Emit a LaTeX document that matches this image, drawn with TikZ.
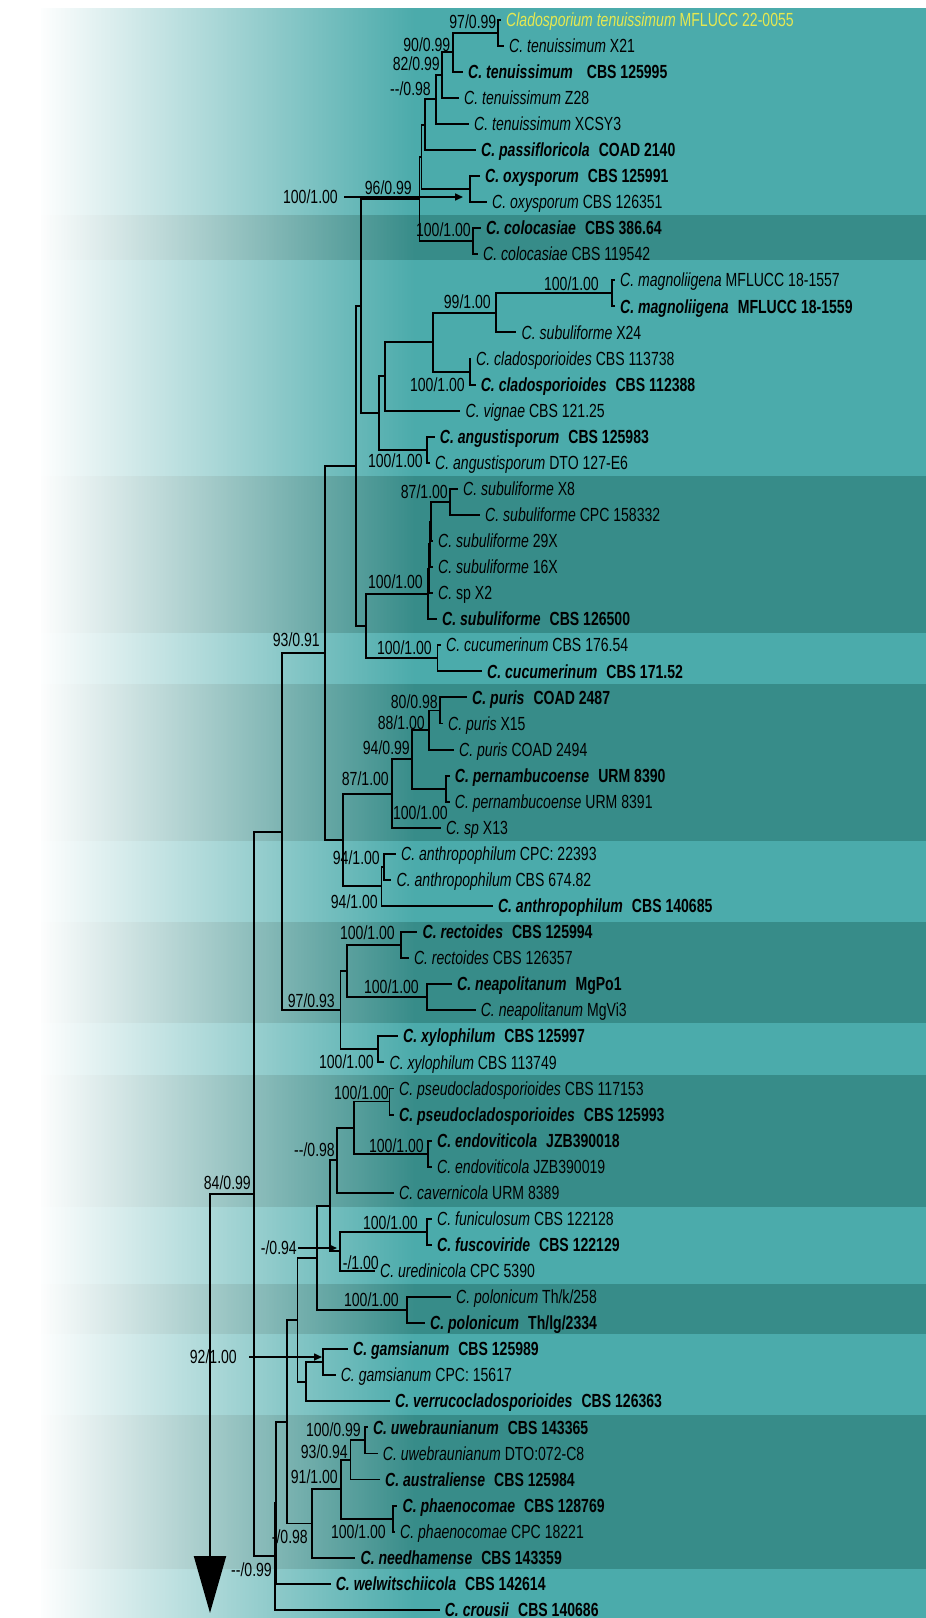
\documentclass[tikz,border=0pt]{standalone}
\usepackage{fontspec}
\setmainfont{Liberation Sans}[FakeStretch=0.74]
\usetikzlibrary{arrows.meta,fadings}
\definecolor{bandlight}{RGB}{75,171,171}
\definecolor{banddark}{RGB}{55,140,137}
\definecolor{hilite}{RGB}{230,232,80}
% species name in italics followed by the strain number
\newcommand\sreg[2]{\textit{#1} #2}
% ex-type strains: bold, with a wider gap before the strain number
\newcommand\stype[2]{\textbf{\textit{#1}\hspace{9pt}#2}}
% white wash that is solid on the left and clear on the right
\tikzfading[name=washleft, left color=transparent!0, right color=transparent!100]

\begin{document}
\begin{tikzpicture}[x=1pt,y=-1pt,
  declare function={ry(\i)=26.07*\i-6.47;},
  br/.style={line width=1.9pt, line join=miter, line cap=rect},
  taxon/.style={anchor=west, inner xsep=6pt, inner ysep=0pt, text height=13.3pt, text depth=0pt},
  support/.style={anchor=east, inner sep=0pt, text height=13.3pt, text depth=0pt},
  pointer/.style={line width=1.6pt, -{Triangle[length=8pt,width=7pt]}},
  font=\fontsize{19}{21}\selectfont]

\useasboundingbox (0,0) rectangle (926,1618);
\fill[white] (0,0) rectangle (926,1618);

% alternating clade bands
\foreach \ya/\yb/\bc in {7.5/215/bandlight, 215/260/banddark, 260/476/bandlight,
   476/633/banddark, 633/684/bandlight, 684/841/banddark, 841/922/bandlight,
   922/1023/banddark, 1023/1075/bandlight, 1075/1207/banddark, 1207/1284/bandlight,
   1284/1334/banddark, 1334/1415/bandlight, 1415/1569/banddark, 1569/1618/bandlight}{
  \fill[\bc] (41,\ya) rectangle (926,\yb);
}
% the bands fade to white towards the left edge
\fill[white, path fading=washleft] (38,-2) rectangle (415,1620);

% ---------- taxa ----------
\node[taxon, text=hilite] (L1) at (500,{ry(1)}) {\sreg{Cladosporium tenuissimum}{MFLUCC 22-0055}};
\node[taxon] (L2) at (503,{ry(2)}) {\sreg{C. tenuissimum}{X21}};
\node[taxon] (L3) at (462,{ry(3)}) {\textbf{\textit{C. tenuissimum}\hspace{14pt}CBS 125995}};
\node[taxon] (L4) at (458,{ry(4)}) {\sreg{C. tenuissimum}{Z28}};
\node[taxon] (L5) at (468,{ry(5)}) {\sreg{C. tenuissimum}{XCSY3}};
\node[taxon] (L6) at (475,{ry(6)}) {\stype{C. passifloricola}{COAD 2140}};
\node[taxon] (L7) at (479,{ry(7)}) {\stype{C. oxysporum}{CBS 125991}};
\node[taxon] (L8) at (486,{ry(8)}) {\sreg{C. oxysporum}{CBS 126351}};
\node[taxon] (L9) at (480,{ry(9)}) {\stype{C. colocasiae}{CBS 386.64}};
\node[taxon] (L10) at (477,{ry(10)}) {\sreg{C. colocasiae}{CBS 119542}};
\node[taxon] (L11) at (614,{ry(11)}) {\sreg{C. magnoliigena}{MFLUCC 18-1557}};
\node[taxon] (L12) at (614,{ry(12)}) {\stype{C. magnoliigena}{MFLUCC 18-1559}};
\node[taxon] (L13) at (515.5,{ry(13)}) {\sreg{C. subuliforme}{X24}};
\node[taxon] (L14) at (470,{ry(14)}) {\sreg{C. cladosporioides}{CBS 113738}};
\node[taxon] (L15) at (474.6,{ry(15)}) {\stype{C. cladosporioides}{CBS 112388}};
\node[taxon] (L16) at (459.5,{ry(16)}) {\sreg{C. vignae}{CBS 121.25}};
\node[taxon] (L17) at (433.7,{ry(17)}) {\stype{C. angustisporum}{CBS 125983}};
\node[taxon] (L18) at (429,{ry(18)}) {\sreg{C. angustisporum}{DTO 127-E6}};
\node[taxon] (L19) at (457,{ry(19)}) {\sreg{C. subuliforme}{X8}};
\node[taxon] (L20) at (479,{ry(20)}) {\sreg{C. subuliforme}{CPC 158332}};
\node[taxon] (L21) at (432,{ry(21)}) {\sreg{C. subuliforme}{29X}};
\node[taxon] (L22) at (432,{ry(22)}) {\sreg{C. subuliforme}{16X}};
\node[taxon] (L23) at (432,{ry(23)}) {\sreg{C.}{sp X2}};
\node[taxon] (L24) at (436,{ry(24)}) {\stype{C. subuliforme}{CBS 126500}};
\node[taxon] (L25) at (440,{ry(25)}) {\sreg{C. cucumerinum}{CBS 176.54}};
\node[taxon] (L26) at (481,{ry(26)}) {\stype{C. cucumerinum}{CBS 171.52}};
\node[taxon] (L27) at (466,{ry(27)}) {\stype{C. puris}{COAD 2487}};
\node[taxon] (L28) at (442,{ry(28)}) {\sreg{C. puris}{X15}};
\node[taxon] (L29) at (453,{ry(29)}) {\sreg{C. puris}{COAD 2494}};
\node[taxon] (L30) at (448.7,{ry(30)}) {\stype{C. pernambucoense}{URM 8390}};
\node[taxon] (L31) at (448.7,{ry(31)}) {\sreg{C. pernambucoense}{URM 8391}};
\node[taxon] (L32) at (440,{ry(32)}) {\sreg{C. sp}{X13}};
\node[taxon] (L33) at (395,{ry(33)}) {\sreg{C. anthropophilum}{CPC: 22393}};
\node[taxon] (L34) at (390.5,{ry(34)}) {\sreg{C. anthropophilum}{CBS 674.82}};
\node[taxon] (L35) at (491.8,{ry(35)}) {\stype{C. anthropophilum}{CBS 140685}};
\node[taxon] (L36) at (416.4,{ry(36)}) {\stype{C. rectoides}{CBS 125994}};
\node[taxon] (L37) at (407.8,{ry(37)}) {\sreg{C. rectoides}{CBS 126357}};
\node[taxon] (L38) at (451,{ry(38)}) {\stype{C. neapolitanum}{MgPo1}};
\node[taxon] (L39) at (474.6,{ry(39)}) {\sreg{C. neapolitanum}{MgVi3}};
\node[taxon] (L40) at (397,{ry(40)}) {\stype{C. xylophilum}{CBS 125997}};
\node[taxon] (L41) at (383.5,{ry(41)}) {\sreg{C. xylophilum}{CBS 113749}};
\node[taxon] (L42) at (393,{ry(42)}) {\sreg{C. pseudocladosporioides}{CBS 117153}};
\node[taxon] (L43) at (393,{ry(43)}) {\stype{C. pseudocladosporioides}{CBS 125993}};
\node[taxon] (L44) at (431,{ry(44)}) {\stype{C. endoviticola}{JZB390018}};
\node[taxon] (L45) at (431,{ry(45)}) {\sreg{C. endoviticola}{JZB390019}};
\node[taxon] (L46) at (393,{ry(46)}) {\sreg{C. cavernicola}{URM 8389}};
\node[taxon] (L47) at (431,{ry(47)}) {\sreg{C. funiculosum}{CBS 122128}};
\node[taxon] (L48) at (431,{ry(48)}) {\stype{C. fuscoviride}{CBS 122129}};
\node[taxon] (L49) at (374,{ry(49)}) {\sreg{C. uredinicola}{CPC 5390}};
\node[taxon] (L50) at (450,{ry(50)}) {\sreg{C. polonicum}{Th/k/258}};
\node[taxon] (L51) at (424,{ry(51)}) {\stype{C. polonicum}{Th/lg/2334}};
\node[taxon] (L52) at (347,{ry(52)}) {\stype{C. gamsianum}{CBS 125989}};
\node[taxon] (L53) at (334.6,{ry(53)}) {\sreg{C. gamsianum}{CPC: 15617}};
\node[taxon] (L54) at (389,{ry(54)}) {\stype{C. verrucocladosporioides}{CBS 126363}};
\node[taxon] (L55) at (366.8,{ry(55)}) {\stype{C. uwebraunianum}{CBS 143365}};
\node[taxon] (L56) at (376.7,{ry(56)}) {\sreg{C. uwebraunianum}{DTO:072-C8}};
\node[taxon] (L57) at (379,{ry(57)}) {\stype{C. australiense}{CBS 125984}};
\node[taxon] (L58) at (396.5,{ry(58)}) {\stype{C. phaenocomae}{CBS 128769}};
\node[taxon] (L59) at (394,{ry(59)}) {\sreg{C. phaenocomae}{CPC 18221}};
\node[taxon] (L60) at (354.4,{ry(60)}) {\stype{C. needhamense}{CBS 143359}};
\node[taxon] (L61) at (329.6,{ry(61)}) {\stype{C. welwitschiicola}{CBS 142614}};
\node[taxon] (L62) at (438.6,{ry(62)}) {\stype{C. crousii}{CBS 140686}};

% ---------- internal nodes ----------
\coordinate (nn97) at (498,{ry(1.5)});
\coordinate (nn90) at (452.6,{ry(2.25)});
\coordinate (nn82) at (441.8,{ry(3.125)});
\coordinate (nn098) at (436,{ry(4.0625)});
\coordinate (nX0) at (424.6,{ry(5.03125)});
\coordinate (noxy) at (470,{ry(7.5)});
\coordinate (nX1) at (421.5,{ry(6.265625)});
\coordinate (ncolo) at (473,{ry(9.5)});
\coordinate (nX2) at (419.5,{ry(7.8828)});
\coordinate (nmagn) at (612,{ry(11.5)});
\coordinate (nn99) at (495.7,{ry(12.25)});
\coordinate (nclad) at (470,{ry(14.5)});
\coordinate (nT) at (433,{ry(13.375)});
\coordinate (nU) at (385,{ry(14.6875)});
\coordinate (nang) at (426.7,{ry(17.5)});
\coordinate (nV) at (379.3,{ry(16.09375)});
\coordinate (nY) at (361.2,{ry(11.9883)});
\coordinate (nn87) at (450.4,{ry(19.5)});
\coordinate (nP4) at (431,{ry(20.25)});
\coordinate (nP3) at (430,{ry(21.125)});
\coordinate (nP2) at (429,{ry(22.0625)});
\coordinate (nP1) at (428,{ry(23.03125)});
\coordinate (ncuc) at (437.5,{ry(25.5)});
\coordinate (nW) at (366,{ry(24.2656)});
\coordinate (nZ) at (355.6,{ry(18.127)});
\coordinate (nn80) at (439.7,{ry(27.5)});
\coordinate (nn88) at (429,{ry(28.25)});
\coordinate (npern) at (446,{ry(30.5)});
\coordinate (nn94) at (411.6,{ry(29.375)});
\coordinate (nn87b) at (392,{ry(30.6875)});
\coordinate (nanthI) at (384,{ry(33.5)});
\coordinate (nanth) at (381.5,{ry(34.25)});
\coordinate (nPA) at (342.7,{ry(32.46875)});
\coordinate (nn93) at (325,{ry(25.298)});
\coordinate (nrect) at (401,{ry(36.5)});
\coordinate (nneap) at (426.7,{ry(38.5)});
\coordinate (nRN) at (347,{ry(37.5)});
\coordinate (nxyl) at (377.6,{ry(40.5)});
\coordinate (nn97b) at (340.5,{ry(39)});
\coordinate (nC) at (282.3,{ry(32.149)});
\coordinate (npseu) at (389.5,{ry(42.5)});
\coordinate (nendo) at (427.6,{ry(44.5)});
\coordinate (nH) at (353.8,{ry(43.5)});
\coordinate (nI) at (337,{ry(44.75)});
\coordinate (nfun) at (426.7,{ry(47.5)});
\coordinate (nK) at (340,{ry(48.25)});
\coordinate (nJ) at (330,{ry(46.5)});
\coordinate (npol) at (406.7,{ry(50.5)});
\coordinate (nL) at (316.7,{ry(48.5)});
\coordinate (ngam) at (323.3,{ry(52.5)});
\coordinate (nO) at (306,{ry(53.25)});
\coordinate (nM) at (297.5,{ry(50.875)});
\coordinate (nuwe) at (365.3,{ry(55.5)});
\coordinate (nP) at (350.5,{ry(56.25)});
\coordinate (nphae) at (392.6,{ry(58.5)});
\coordinate (nQ) at (340.6,{ry(57.375)});
\coordinate (nR) at (311.7,{ry(58.6875)});
\coordinate (nN) at (286.7,{ry(54.78125)});
\coordinate (nE2) at (276,{ry(57.8906)});
\coordinate (nE) at (275,{ry(59.9453)});
\coordinate (nA) at (254.3,{ry(46.047)});
\coordinate (roottip) at (210,1613);

% ---------- branches ----------
\draw[br] (L1.west) -| (nn97) |- (L2.west);
\draw[br] (nn97) -| (nn90) |- (L3.west);
\draw[br] (nn90) -| (nn82) |- (L4.west);
\draw[br] (nn82) -| (nn098) |- (L5.west);
\draw[br] (nn098) -| (nX0) |- (L6.west);
\draw[br] (L7.west) -| (noxy) |- (L8.west);
\draw[br] (nX0) -| (nX1) |- (noxy);
\draw[br] (L9.west) -| (ncolo) |- (L10.west);
\draw[br] (nX1) -| (nX2) |- (ncolo);
\draw[br] (L11.west) -| (nmagn) |- (L12.west);
\draw[br] (nmagn) -| (nn99) |- (L13.west);
\draw[br] (L14.west) -| (nclad) |- (L15.west);
\draw[br] (nn99) -| (nT) |- (nclad);
\draw[br] (nT) -| (nU) |- (L16.west);
\draw[br] (L17.west) -| (nang) |- (L18.west);
\draw[br] (nU) -| (nV) |- (nang);
\draw[br] (nX2) -| (nY) |- (nV);
\draw[br] (L19.west) -| (nn87) |- (L20.west);
\draw[br] (nn87) -| (nP4) |- (L21.west);
\draw[br] (nP4) -| (nP3) |- (L22.west);
\draw[br] (nP3) -| (nP2) |- (L23.west);
\draw[br] (nP2) -| (nP1) |- (L24.west);
\draw[br] (L25.west) -| (ncuc) |- (L26.west);
\draw[br] (nP1) -| (nW) |- (ncuc);
\draw[br] (nY) -| (nZ) |- (nW);
\draw[br] (L27.west) -| (nn80) |- (L28.west);
\draw[br] (nn80) -| (nn88) |- (L29.west);
\draw[br] (L30.west) -| (npern) |- (L31.west);
\draw[br] (nn88) -| (nn94) |- (npern);
\draw[br] (nn94) -| (nn87b) |- (L32.west);
\draw[br] (L33.west) -| (nanthI) |- (L34.west);
\draw[br] (nanthI) -| (nanth) |- (L35.west);
\draw[br] (nn87b) -| (nPA) |- (nanth);
\draw[br] (nZ) -| (nn93) |- (nPA);
\draw[br] (L36.west) -| (nrect) |- (L37.west);
\draw[br] (L38.west) -| (nneap) |- (L39.west);
\draw[br] (nrect) -| (nRN) |- (nneap);
\draw[br] (L40.west) -| (nxyl) |- (L41.west);
\draw[br] (nRN) -| (nn97b) |- (nxyl);
\draw[br] (nn93) -| (nC) |- (nn97b);
\draw[br] (L42.west) -| (npseu) |- (L43.west);
\draw[br] (L44.west) -| (nendo) |- (L45.west);
\draw[br] (npseu) -| (nH) |- (nendo);
\draw[br] (nH) -| (nI) |- (L46.west);
\draw[br] (L47.west) -| (nfun) |- (L48.west);
\draw[br] (nfun) -| (nK) |- (L49.west);
\draw[br] (nI) -| (nJ) |- (nK);
\draw[br] (L50.west) -| (npol) |- (L51.west);
\draw[br] (nJ) -| (nL) |- (npol);
\draw[br] (L52.west) -| (ngam) |- (L53.west);
\draw[br] (ngam) -| (nO) |- (L54.west);
\draw[br] (nL) -| (nM) |- (nO);
\draw[br] (L55.west) -| (nuwe) |- (L56.west);
\draw[br] (nuwe) -| (nP) |- (L57.west);
\draw[br] (L58.west) -| (nphae) |- (L59.west);
\draw[br] (nP) -| (nQ) |- (nphae);
\draw[br] (nQ) -| (nR) |- (L60.west);
\draw[br] (nM) -| (nN) |- (nR);
\draw[br] (nN) -| (nE2) |- (L61.west);
\draw[br] (nE2) -| (nE) |- (L62.west);
\draw[br] (nC) -| (nA) |- (nE);
% branch to the rest of the tree, continued below
\draw[br, -{Triangle[length=57pt,width=32pt]}] (nA) -| (roottip);

% ---------- support values ----------
\node[support] (s97) at (496.5,22) {97/0.99};
\node[support] (s90) at (450.5,45) {90/0.99};
\node[support] (s82) at (440,64) {82/0.99};
\node[support] (s098) at (431,89) {-{}-/0.98};
\node[support] (s96) at (412,188) {96/0.99};
\node[support] (s100oxy) at (338,197) {100/1.00};
\node[support] (scolo) at (471,230) {100/1.00};
\node[support] (smagn) at (599,284) {100/1.00};
\node[support] (s99) at (491,302) {99/1.00};
\node[support] (sclad) at (465,385) {100/1.00};
\node[support] (sang) at (423,461) {100/1.00};
\node[support] (s87) at (448,492) {87/1.00};
\node[support] (ssub) at (423,582) {100/1.00};
\node[support] (scuc) at (432,648) {100/1.00};
\node[support] (s93) at (320,640) {93/0.91};
\node[support] (s80) at (438,702) {80/0.98};
\node[support] (s88) at (425,723) {88/1.00};
\node[support] (s94) at (410,748) {94/0.99};
\node[support] (s87b) at (389,779) {87/1.00};
\node[support] (spern) at (448,813) {100/1.00};
\node[support] (s94a) at (380,858) {94/1.00};
\node[support] (s94b) at (378,902) {94/1.00};
\node[support] (srect) at (395,933) {100/1.00};
\node[support] (sneap) at (419,987) {100/1.00};
\node[support] (s97b) at (335,1001) {97/0.93};
\node[support] (sxyl) at (374,1062) {100/1.00};
\node[support] (spseu) at (389,1093) {100/1.00};
\node[support] (sendo) at (424,1146) {100/1.00};
\node[support] (s098b) at (335,1150) {-{}-/0.98};
\node[support] (s84) at (251,1183) {84/0.99};
\node[support] (sfun) at (418,1223) {100/1.00};
\node[support] (s094) at (297,1248) {-/0.94};
\node[support] (s100u) at (379,1263) {-/1.00};
\node[support] (spol) at (399,1300) {100/1.00};
\node[support] (s92) at (237,1357) {92/1.00};
\node[support] (suwe) at (361,1430) {100/0.99};
\node[support] (s93b) at (348,1452) {93/0.94};
\node[support] (s91) at (338,1477) {91/1.00};
\node[support] (sphae) at (386,1532) {100/1.00};
\node[support] (s098c) at (308,1537) {-/0.98};
\node[support] (s099) at (272,1570) {-{}-/0.99};

% pointers from detached support values to their nodes
\coordinate (oxytip) at (463,197);
\coordinate (ktip) at (337,1248);
\coordinate (gamtip) at (322,1357);
\draw[pointer, shorten <=6pt] (s100oxy) -- (oxytip);
\draw[pointer, shorten <=1pt] (s094) -- (ktip);
\draw[pointer, shorten <=12pt] (s92) -- (gamtip);

\end{tikzpicture}
\end{document}
